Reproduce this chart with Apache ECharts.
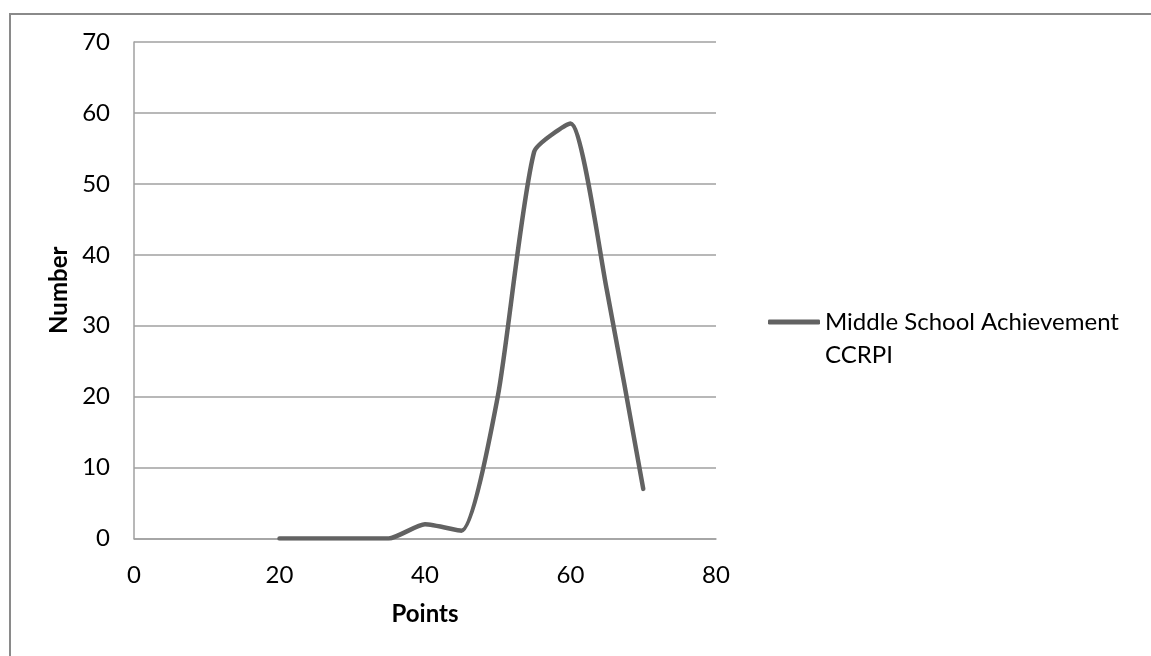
<!DOCTYPE html>
<html>
<head>
<meta charset="utf-8">
<script src="https://cdn.jsdelivr.net/npm/echarts@6/dist/echarts.min.js"></script>
<style>
html,body{margin:0;padding:0;background:#fff;}
#c{width:1151px;height:656px;}
</style>
</head>
<body>
<div id="c"></div>
<script>
const seriesName = 'Middle School Achievement\nCCRPI';
const xPoints = [20, 25, 30, 35, 40, 45, 50, 55, 60, 65, 70];
const yNumber = [0, 0, 0, 0, 2, 1.1, 20, 54.5, 58.5, 35, 7];
const xTicks = [0, 20, 40, 60, 80];
const yTicks = [0, 10, 20, 30, 40, 50, 60, 70];

const FONT = 'Lato';
const chart = echarts.init(document.getElementById('c'));
chart.setOption({
  backgroundColor: '#ffffff',
  animation: false,
  textStyle: { fontFamily: FONT },
  graphic: [{
    type: 'rect',
    shape: { x: 10, y: 14, width: 1300, height: 800 },
    style: { fill: 'none', stroke: '#8a8a8a', lineWidth: 2 },
    silent: true
  }],
  grid: { left: 134, right: 435, top: 42, bottom: 117.5, containLabel: false },
  legend: {
    left: 768,
    top: 272.5,
    padding: 0,
    orient: 'vertical',
    icon: 'roundRect',
    itemWidth: 52,
    itemHeight: 5,
    itemGap: 0,
    formatter: function (name) { return ' \n' + name; },
    textStyle: {
      fontFamily: FONT, fontSize: 24, color: '#000', lineHeight: 33
    },
    data: [seriesName]
  },
  xAxis: {
    type: 'value',
    min: xTicks[0], max: xTicks[xTicks.length - 1], interval: 20,
    name: 'Points', nameLocation: 'middle', nameGap: 64,
    nameTextStyle: { fontFamily: FONT, fontSize: 24, fontWeight: 'bold', color: '#000' },
    axisLine: { show: true, lineStyle: { color: '#a0a0a0', width: 1.5 } },
    axisTick: { show: false },
    splitLine: { show: false },
    axisLabel: { fontFamily: FONT, fontSize: 24, color: '#000', margin: 25 }
  },
  yAxis: {
    type: 'value',
    min: yTicks[0], max: yTicks[yTicks.length - 1], interval: 10,
    name: 'Number', nameLocation: 'middle', nameGap: 62,
    nameTextStyle: { fontFamily: FONT, fontSize: 24, fontWeight: 'bold', color: '#000' },
    axisLine: { show: true, lineStyle: { color: '#a0a0a0', width: 1.5 } },
    axisTick: { show: false },
    splitLine: { show: true, lineStyle: { color: '#a0a0a0', width: 1.5 } },
    axisLabel: { fontFamily: FONT, fontSize: 24, color: '#000', margin: 24 }
  },
  series: [{
    name: seriesName,
    type: 'line',
    data: xPoints.map((x, i) => [x, yNumber[i]]),
    smooth: 0.2,
    showSymbol: false,
    symbol: 'none',
    lineStyle: { color: '#626262', width: 4.5, cap: 'round' },
    itemStyle: { color: '#626262' }
  }]
});
</script>
</body>
</html>
